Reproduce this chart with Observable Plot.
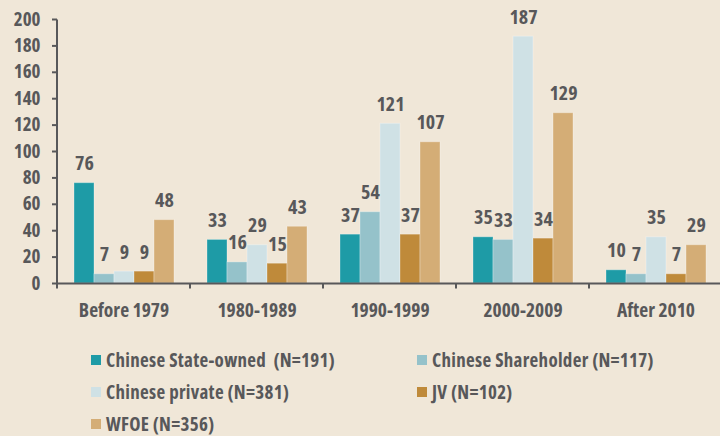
<!DOCTYPE html>
<html>
<head>
<meta charset="utf-8">
<script src="https://cdn.jsdelivr.net/npm/d3@7"></script>
<script src="https://cdn.jsdelivr.net/npm/@observablehq/plot@0.6"></script>
<style>
  html, body { margin: 0; padding: 0; background: #F0E7D8; }
  body { width: 720px; height: 436px; overflow: hidden; font-family: "Open Sans", sans-serif; font-stretch: 75%; font-weight: bold; color: #58585A; }
  svg text { font-stretch: 75%; }
  #legend { display: grid; grid-template-columns: 326px 300px; padding-left: 91px; margin-top: 1px; }
  .item { display: flex; align-items: center; height: 32px; font-size: 19px; line-height: 1; letter-spacing: 0.3px; }
  .sw { width: 10px; height: 10px; margin-right: 5px; flex: none; }
</style>
</head>
<body>
<div id="chart"></div>
<div id="legend"></div>
<script>
const periods = ["Before 1979", "1980-1989", "1990-1999", "2000-2009", "After 2010"];
const series = ["Chinese State-owned  (N=191)", "Chinese Shareholder (N=117)", "Chinese private (N=381)", "JV (N=102)", "WFOE (N=356)"];
const colors = ["#1E9BA6", "#95C2CA", "#CFE1E5", "#BF8A3A", "#D4AD76"];
const stateOwned = [76, 33, 37, 35, 10];
const shareholder = [7, 16, 54, 33, 7];
const privateCo = [9, 29, 121, 187, 35];
const jv = [9, 15, 37, 34, 7];
const wfoe = [48, 43, 107, 129, 29];
const yTicks = [0, 20, 40, 60, 80, 100, 120, 140, 160, 180, 200];

const valuesBySeries = [stateOwned, shareholder, privateCo, jv, wfoe];
const data = [];
periods.forEach((p, i) => series.forEach((s, j) => data.push({period: p, series: s, value: valuesBySeries[j][i]})));

const ink = "#58585A";

// baseline per facet, plus the y-axis line (first facet) and group-boundary ticks (others)
const axisExtras = (index, scales, values, dims, context, next) => {
  const g = next(index, scales, values, dims, context);
  const {y} = scales;
  const y0 = y(0);
  const sel = d3.select(g);
  const first = periods[index[0]] === periods[0];
  sel.append("line")
    .attr("x1", dims.marginLeft).attr("x2", dims.marginLeft)
    .attr("y1", first ? y(200) : y0).attr("y2", y0 + 5)
    .attr("stroke", ink).attr("stroke-width", 2);
  return g;
};

const chart = Plot.plot({
  width: 720,
  height: 343,
  marginLeft: 55,
  marginRight: -4,
  marginTop: 19,
  marginBottom: 60,
  style: {background: "#F0E7D8", fontFamily: "'Open Sans', sans-serif", fontWeight: "bold", color: ink},
  fx: {domain: periods, padding: 0, label: null},
  x: {domain: series, paddingInner: 0, paddingOuter: 0.75, axis: null},
  y: {domain: [0, 200], label: null},
  color: {domain: series, range: colors},
  marks: [
    Plot.barY(data, {fx: "period", x: "series", y: "value", fill: "series", stroke: "#ffffff", strokeOpacity: 0.3, strokeWidth: 1}),
    Plot.text(data, {fx: "period", x: "series", y: "value", text: d => String(d.value), lineAnchor: "bottom", dy: -13, fontSize: 20, fontWeight: "bold", fill: ink}),
    Plot.axisY({ticks: yTicks, tickSize: 5, tickPadding: 12, fontSize: 19, fontWeight: "bold", stroke: ink, strokeWidth: 2, fill: ink, label: null, tickFormat: d => String(d)}),
    Plot.axisFx({anchor: "bottom", tickSize: 0, tickPadding: 20, fontSize: 19.5, fontWeight: "bold", fill: ink, label: null, style: {letterSpacing: "0.4px"}}),
    Plot.ruleY(periods, {fx: d => d, y: () => 0, stroke: ink, strokeWidth: 2, render: axisExtras})
  ]
});
document.getElementById("chart").appendChild(chart);

const legend = document.getElementById("legend");
series.forEach((s, j) => {
  const item = document.createElement("div");
  item.className = "item";
  const sw = document.createElement("span");
  sw.className = "sw";
  sw.style.background = colors[j];
  const t = document.createElement("span");
  t.textContent = s;
  t.style.whiteSpace = "pre";
  item.appendChild(sw);
  item.appendChild(t);
  legend.appendChild(item);
});
</script>
</body>
</html>
